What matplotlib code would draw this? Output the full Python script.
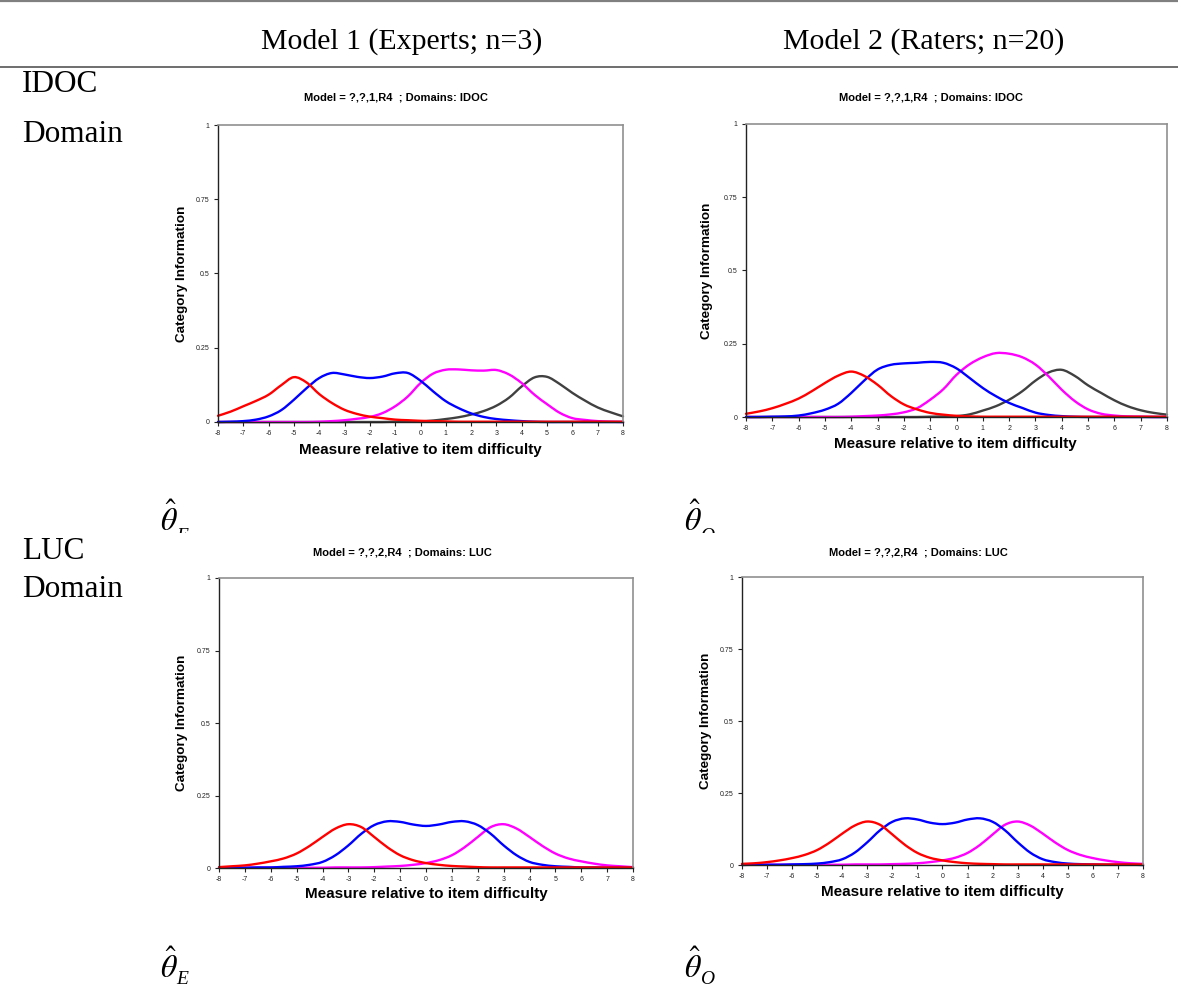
import numpy as np
import matplotlib.pyplot as plt
from matplotlib.lines import Line2D
from matplotlib.path import Path
from matplotlib.patches import PathPatch
from matplotlib.ticker import FuncFormatter

plt.rcParams['mathtext.fontset'] = 'stix'
plt.rcParams['axes.unicode_minus'] = False

W, H = 1178, 988

# measure relative to item difficulty, read every 0.5 logit
x = np.arange(-8, 8.5, 0.5)

# IDOC domain, Model 1 (Experts; n=3)
idoc_m1_red = [0.021, 0.035, 0.053, 0.071, 0.092, 0.124, 0.151, 0.133, 0.094, 0.064, 0.041,
               0.027, 0.018, 0.013, 0.008, 0.006, 0.004, 0.003, 0.002, 0.001, 0.001, 0.001,
               0.001, 0.001, 0.001, 0.001, 0.001, 0.001, 0.001, 0.001, 0.001, 0.001, 0.001]
idoc_m1_blue = [0.000, 0.001, 0.003, 0.008, 0.019, 0.040, 0.075, 0.114, 0.148, 0.165, 0.160,
                0.152, 0.148, 0.153, 0.164, 0.165, 0.139, 0.103, 0.070, 0.047, 0.029, 0.017,
                0.010, 0.006, 0.003, 0.001, 0.000, 0.000, 0.000, 0.000, 0.000, 0.000, 0.000]
idoc_m1_magenta = [0.000, 0.000, 0.000, 0.000, 0.000, 0.000, 0.000, 0.000, 0.001, 0.003, 0.006,
                   0.011, 0.017, 0.030, 0.053, 0.086, 0.131, 0.163, 0.176, 0.177, 0.174, 0.173,
                   0.175, 0.160, 0.131, 0.092, 0.060, 0.031, 0.013, 0.007, 0.003, 0.001, 0.000]
idoc_m1_grey = [0.000, 0.000, 0.000, 0.000, 0.000, 0.000, 0.000, 0.000, 0.000, 0.000, 0.000,
                0.000, 0.000, 0.000, 0.001, 0.001, 0.002, 0.005, 0.010, 0.016, 0.025, 0.037,
                0.055, 0.082, 0.120, 0.150, 0.152, 0.128, 0.098, 0.072, 0.049, 0.033, 0.019]

# IDOC domain, Model 2 (Raters; n=20)
idoc_m2_red = [0.011, 0.019, 0.030, 0.045, 0.063, 0.088, 0.116, 0.141, 0.155, 0.140, 0.110,
               0.072, 0.043, 0.026, 0.014, 0.008, 0.004, 0.002, 0.001, 0.001, 0.001, 0.001,
               0.001, 0.001, 0.001, 0.001, 0.001, 0.001, 0.001, 0.001, 0.001, 0.001, 0.001]
idoc_m2_blue = [0.000, 0.000, 0.001, 0.002, 0.005, 0.013, 0.025, 0.045, 0.082, 0.125, 0.162,
                0.178, 0.183, 0.185, 0.188, 0.185, 0.166, 0.133, 0.099, 0.071, 0.048, 0.031,
                0.015, 0.007, 0.003, 0.001, 0.000, 0.000, 0.000, 0.000, 0.000, 0.000, 0.000]
idoc_m2_magenta = [0.000, 0.000, 0.000, 0.000, 0.000, 0.000, 0.000, 0.000, 0.001, 0.003, 0.005,
                   0.009, 0.016, 0.030, 0.059, 0.095, 0.144, 0.180, 0.204, 0.218, 0.216, 0.204,
                   0.179, 0.139, 0.093, 0.054, 0.026, 0.011, 0.005, 0.002, 0.001, 0.000, 0.000]
idoc_m2_grey = [0.000, 0.000, 0.000, 0.000, 0.000, 0.000, 0.000, 0.000, 0.000, 0.000, 0.000,
                0.000, 0.000, 0.000, 0.001, 0.002, 0.003, 0.009, 0.022, 0.037, 0.059, 0.088,
                0.124, 0.152, 0.161, 0.140, 0.108, 0.082, 0.057, 0.037, 0.023, 0.014, 0.008]

# LUC domain, Model 1 (Experts; n=3)
luc_m1_red = [0.003, 0.006, 0.009, 0.015, 0.023, 0.033, 0.050, 0.076, 0.107, 0.136, 0.151,
              0.141, 0.107, 0.072, 0.044, 0.027, 0.017, 0.011, 0.007, 0.005, 0.003, 0.002,
              0.002, 0.002, 0.002, 0.002, 0.002, 0.002, 0.002, 0.002, 0.002, 0.002, 0.002]
luc_m1_blue = [0.001, 0.001, 0.001, 0.002, 0.002, 0.004, 0.006, 0.011, 0.021, 0.044, 0.078,
               0.118, 0.148, 0.161, 0.159, 0.150, 0.145, 0.150, 0.159, 0.161, 0.148, 0.118,
               0.078, 0.044, 0.021, 0.011, 0.006, 0.004, 0.002, 0.002, 0.001, 0.001, 0.001]
luc_m1_magenta = [0.001, 0.001, 0.001, 0.001, 0.001, 0.001, 0.001, 0.001, 0.001, 0.002, 0.002,
                  0.002, 0.003, 0.005, 0.007, 0.011, 0.017, 0.027, 0.044, 0.072, 0.107, 0.141,
                  0.151, 0.136, 0.107, 0.076, 0.050, 0.033, 0.023, 0.015, 0.009, 0.006, 0.003]

# LUC domain, Model 2 (Raters; n=20)
luc_m2_red = [0.004, 0.006, 0.010, 0.016, 0.024, 0.035, 0.052, 0.078, 0.109, 0.137, 0.151,
              0.140, 0.106, 0.070, 0.042, 0.025, 0.016, 0.010, 0.006, 0.004, 0.003, 0.002,
              0.002, 0.002, 0.002, 0.002, 0.002, 0.002, 0.002, 0.002, 0.002, 0.002, 0.002]
luc_m2_blue = [0.000, 0.001, 0.001, 0.001, 0.002, 0.003, 0.005, 0.010, 0.020, 0.043, 0.079,
               0.120, 0.150, 0.162, 0.158, 0.147, 0.142, 0.147, 0.158, 0.162, 0.150, 0.120,
               0.079, 0.043, 0.020, 0.010, 0.005, 0.003, 0.002, 0.001, 0.001, 0.001, 0.000]
luc_m2_magenta = [0.001, 0.001, 0.001, 0.001, 0.001, 0.001, 0.001, 0.001, 0.001, 0.002, 0.002,
                  0.002, 0.003, 0.004, 0.006, 0.010, 0.016, 0.025, 0.042, 0.070, 0.106, 0.140,
                  0.151, 0.137, 0.109, 0.078, 0.052, 0.035, 0.024, 0.016, 0.010, 0.006, 0.004]

panel_titles = ['Model = ?,?,1,R4  ; Domains: IDOC', 'Model = ?,?,1,R4  ; Domains: IDOC',
                'Model = ?,?,2,R4  ; Domains: LUC', 'Model = ?,?,2,R4  ; Domains: LUC']
col_headers = ['Model 1 (Experts; n=3)', 'Model 2 (Raters; n=20)']
theta_subs = ['E', 'O']

panels = [
    [idoc_m1_grey, idoc_m1_magenta, idoc_m1_blue, idoc_m1_red],
    [idoc_m2_grey, idoc_m2_magenta, idoc_m2_blue, idoc_m2_red],
    [luc_m1_magenta, luc_m1_blue, luc_m1_red],
    [luc_m2_magenta, luc_m2_blue, luc_m2_red],
]
curve_colors = {4: ['#404040', '#ff00ff', '#0000ff', '#ff0000'],
                3: ['#ff00ff', '#0000ff', '#ff0000']}


def fx(px):
    return px / W


def fy(py):
    return 1 - py / H


def smooth_path(xs, ys):
    # Excel-style smoothed line: Catmull-Rom segments as cubic Bezier curves
    p = np.column_stack([xs, ys])
    verts = [p[0]]
    codes = [Path.MOVETO]
    n = len(p)
    for i in range(n - 1):
        p0 = p[max(i - 1, 0)]
        p1 = p[i]
        p2 = p[i + 1]
        p3 = p[min(i + 2, n - 1)]
        verts += [p1 + (p2 - p0) / 6, p2 - (p3 - p1) / 6, p2]
        codes += [Path.CURVE4] * 3
    return Path(verts, codes)


# pixel boxes: left, top, right, bottom
axes_px = [(218, 125, 623, 422), (746, 124, 1167, 417),
           (219, 578, 633, 868), (742, 577, 1143, 865)]
title_px = [(396, 98), (931, 98), (402, 552), (918, 552)]
ylabel_px = [182, 707, 182, 706]
xlabel_px = [(420, 450), (955, 444), (426, 894), (942, 892)]

fig = plt.figure(figsize=(W / 100, H / 100), dpi=100)

for i in range(4):
    l, t, r, b = axes_px[i]
    ax = fig.add_axes([fx(l), fy(b), (r - l) / W, (b - t) / H])
    curves = panels[i]
    for y, c in zip(curves, curve_colors[len(curves)]):
        ax.add_patch(PathPatch(smooth_path(x, np.array(y)), fill=False, edgecolor=c,
                               lw=1.7, capstyle='round', clip_on=False))
    ax.set_xlim(-8, 8)
    ax.set_ylim(0, 1)
    ax.set_xticks(range(-8, 9))
    ax.set_yticks([0, 0.25, 0.5, 0.75, 1])
    ax.yaxis.set_major_formatter(FuncFormatter(lambda v, p: f'{v:g}'))
    ax.tick_params(length=3, width=0.8, labelsize=5, pad=3, colors='#222222')
    for s in ['left', 'bottom']:
        ax.spines[s].set_color('#222222')
        ax.spines[s].set_linewidth(1.0)
    for s in ['top', 'right']:
        ax.spines[s].set_color('#909090')
        ax.spines[s].set_linewidth(1.2)
    for lab in ax.get_xticklabels() + ax.get_yticklabels():
        lab.set_family('Liberation Sans')

    tx, ty = title_px[i]
    fig.text(fx(tx), fy(ty), panel_titles[i], ha='center', va='center',
             family='Liberation Sans', weight='bold', fontsize=8)
    fig.text(fx(ylabel_px[i]), fy((t + b) / 2), 'Category Information', rotation=90,
             ha='center', va='center', family='Liberation Sans', weight='bold', fontsize=9.7)
    lx, ly = xlabel_px[i]
    fig.text(fx(lx), fy(ly), 'Measure relative to item difficulty', ha='center', va='center',
             family='Liberation Sans', weight='bold', fontsize=11)

# table rules and headers
fig.add_artist(Line2D([0, 1], [fy(1), fy(1)], color='#808080', lw=1.6))
fig.add_artist(Line2D([0, 1], [fy(67), fy(67)], color='#555555', lw=1.2))
fig.text(fx(402), fy(42), col_headers[0], ha='center', va='center',
         family='Liberation Serif', fontsize=21.5)
fig.text(fx(924), fy(42), col_headers[1], ha='center', va='center',
         family='Liberation Serif', fontsize=21.5)
for label, base in [('IDOC', 92), ('Domain', 142), ('LUC', 559), ('Domain', 597)]:
    fig.text(fx(22), fy(base), label, ha='left', va='baseline',
             family='Liberation Serif', fontsize=22.5)

# theta symbols; the upper pair is cut off by the next table row
clip_ax = fig.add_axes([0, fy(533), 1, 533 / H])
clip_ax.axis('off')
for sub, tx in zip(theta_subs, [160, 684]):
    clip_ax.text(fx(tx), fy(531), r'$\hat{\theta}$', transform=fig.transFigure,
                 fontsize=23, va='baseline', clip_on=True)
    clip_ax.text(fx(tx + 16), fy(541), sub, transform=fig.transFigure, style='italic',
                 family='Liberation Serif', fontsize=14, va='baseline', clip_on=True)
    fig.text(fx(tx), fy(978), r'$\hat{\theta}$', fontsize=23, va='baseline')
    fig.text(fx(tx + 16), fy(984), sub, style='italic', family='Liberation Serif',
             fontsize=14, va='baseline')

fig.savefig('out.png', dpi=100)
